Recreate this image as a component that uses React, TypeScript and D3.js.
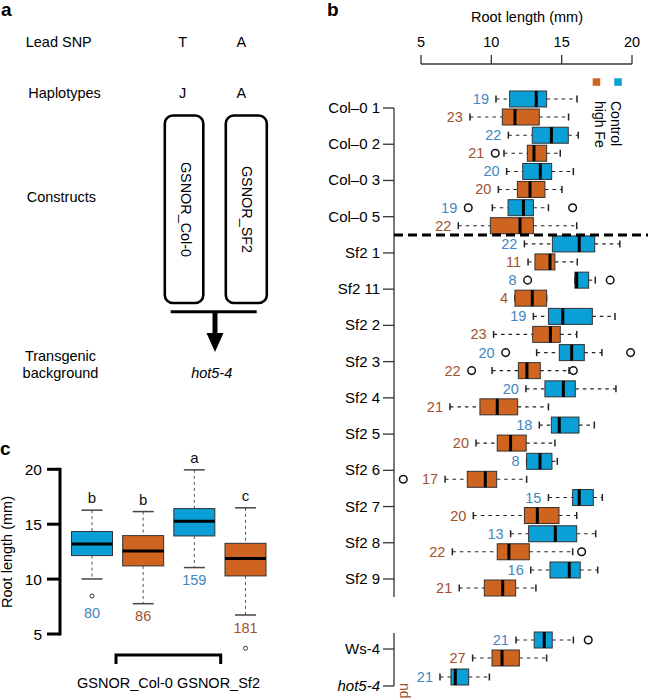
import React from "react";
import * as d3 from "d3";

const FONT = "'Liberation Sans', Arial, Helvetica, sans-serif";
const BLUE = "#0a9fd6";
const ORANGE = "#cf6420";
const BLUE_TXT = "#3f86c2";
const ORANGE_TXT = "#a0522d";

// ---------- panel b data ----------
const lines = ["Col–0 1", "Col–0 2", "Col–0 3", "Col–0 5", "Sf2 1", "Sf2 11", "Sf2 2", "Sf2 3", "Sf2 4", "Sf2 5", "Sf2 6", "Sf2 7", "Sf2 8", "Sf2 9"];
const controlStats = [
  [10.33, 11.3, 13.19, 13.93, 16.09],
  [11.21, 12.91, 14.27, 15.47, 16.18],
  [11.09, 12.23, 13.48, 14.29, 15.83],
  [10.07, 11.19, 12.28, 12.99, 14.06],
  [12.35, 14.34, 16.25, 17.35, 19.14],
  [15.94, 15.94, 16.07, 16.92, 17.39],
  [12.99, 14.06, 15.08, 17.18, 18.79],
  [13.22, 14.83, 15.71, 16.61, 17.86],
  [12.46, 13.81, 15.12, 15.97, 18.86],
  [13.41, 14.27, 14.83, 16.23, 17.32],
  [12.51, 12.51, 13.46, 14.31, 14.69],
  [14.06, 15.78, 16.25, 17.25, 17.89],
  [11.37, 12.65, 14.55, 16.07, 17.42],
  [12.8, 14.17, 15.54, 16.32, 17.56],
];
const controlOutliers = [[], [], [], [8.36, 15.78], [], [12.58, 18.45], [], [11.02, 19.9], [], [], [], [], [], []];
const controlN = [19, 22, 20, 19, 22, 8, 19, 20, 20, 18, 8, 15, 13, 16];
const highFeStats = [
  [8.48, 10.78, 11.68, 13.41, 15.49],
  [10.9, 12.56, 13.03, 13.93, 14.9],
  [10.5, 11.85, 12.75, 13.81, 15.02],
  [7.65, 9.93, 12.04, 12.99, 16.07],
  [12.61, 13.1, 14.17, 14.52, 16.11],
  [11.68, 11.68, 12.91, 13.93, 13.93],
  [10.16, 12.94, 14.2, 14.9, 16.07],
  [10.05, 11.92, 12.53, 13.48, 15.52],
  [7.06, 9.19, 10.42, 11.87, 14.06],
  [8.91, 10.42, 11.37, 12.48, 14.52],
  [6.71, 8.29, 9.57, 10.38, 12.51],
  [8.72, 12.35, 13.27, 14.81, 16.07],
  [7.23, 10.42, 11.25, 12.7, 15.78],
  [7.72, 9.5, 10.81, 11.73, 13.17],
];
const highFeOutliers = [[], [10.28], [], [], [], [], [], [8.6, 15.83], [], [], [3.74], [], [16.42], []];
const highFeN = [23, 21, 20, 22, 11, 4, 23, 22, 21, 20, 17, 20, 22, 21];

const refLines = ["Ws-4", "hot5-4"];
const refControlStats = [
  [11.75, 13.05, 13.76, 14.33, 15.83],
  [6.35, 7.13, 7.44, 8.39, 9.86],
];
const refControlOutliers = [[16.89], []];
const refControlN = [21, 21];
const refHighFeStats = [[8.67, 10.05, 10.76, 11.99, 13.93], null];
const refHighFeOutliers = [[], []];
const refHighFeN = [27, null];

const xTicksB = [5, 10, 15, 20];

// ---------- panel c data ----------
const cGroups = ["Col-0 control", "Col-0 high Fe", "Sf2 control", "Sf2 high Fe"];
const cStats = [
  [10.01, 12.14, 13.2, 14.33, 16.28],
  [7.76, 11.2, 12.57, 13.96, 16.15],
  [11.05, 13.93, 15.27, 16.42, 19.95],
  [6.73, 10.29, 11.87, 13.26, 16.49],
];
const cOutliers = [[8.46], [], [], [3.7]];
const cN = [80, 86, 159, 181];
const cLetters = ["b", "b", "a", "c"];
const cIsControl = [true, false, true, false];
const yTicksC = [5, 10, 15, 20];

// ---------- scales ----------
const xB = d3.scaleLinear().domain([5, 20]).range([421, 632]);
const yMain = d3.scalePoint().domain(lines).range([108, 579]);
const yRef = d3.scalePoint().domain(refLines).range([649, 686]);
const yC = d3.scaleLinear().domain([5, 20]).range([634, 469.3]);
const xC = d3.scalePoint().domain(cGroups).range([92, 245.5]);

function HBox({ stats, outliers, n, cy, fill, txt }) {
  const [lo, q1, med, q3, hi] = stats;
  const h = 16;
  const inRange = outliers.filter((o) => o >= 5);
  const minOut = inRange.length ? Math.min(...inRange) : Infinity;
  const left = Math.min(lo, minOut);
  const labelX = xB(left) - (minOut < lo ? 11 : 7);
  return (
    <g>
      <line x1={xB(lo)} x2={xB(q1)} y1={cy} y2={cy} stroke="#222" strokeWidth={1.1} strokeDasharray="3.5,4" />
      <line x1={xB(q3)} x2={xB(hi)} y1={cy} y2={cy} stroke="#222" strokeWidth={1.1} strokeDasharray="3.5,4" />
      <line x1={xB(lo)} x2={xB(lo)} y1={cy - 3.5} y2={cy + 3.5} stroke="#222" strokeWidth={1.5} />
      <line x1={xB(hi)} x2={xB(hi)} y1={cy - 3.5} y2={cy + 3.5} stroke="#222" strokeWidth={1.5} />
      <rect x={xB(q1)} y={cy - h / 2} width={xB(q3) - xB(q1)} height={h} fill={fill} stroke="#333" strokeWidth={1} />
      <line x1={xB(med)} x2={xB(med)} y1={cy - h / 2} y2={cy + h / 2} stroke="#000" strokeWidth={3} />
      {outliers.map((o, i) => (
        <circle key={i} cx={xB(o)} cy={cy} r={3.8} fill="none" stroke="#111" strokeWidth={1.5} />
      ))}
      <text x={labelX} y={cy + 5} textAnchor="end" fill={txt} fontSize={14.5}>
        {n}
      </text>
    </g>
  );
}

function VBox({ stats, outliers, n, cx, fill, txt, letter }) {
  const [lo, q1, med, q3, hi] = stats;
  const w = 41;
  const inRange = outliers.filter((o) => o >= 5);
  const minOut = inRange.length ? Math.min(...inRange) : Infinity;
  const bottom = Math.min(lo, minOut);
  const labelY = yC(bottom) + (minOut < lo ? 17 : 12.5) + 5;
  return (
    <g>
      <line x1={cx} x2={cx} y1={yC(hi)} y2={yC(q3)} stroke="#555" strokeWidth={1} strokeDasharray="3,3" />
      <line x1={cx} x2={cx} y1={yC(q1)} y2={yC(lo)} stroke="#555" strokeWidth={1} strokeDasharray="3,3" />
      <line x1={cx - 10.5} x2={cx + 10.5} y1={yC(hi)} y2={yC(hi)} stroke="#444" strokeWidth={1.5} />
      <line x1={cx - 10.5} x2={cx + 10.5} y1={yC(lo)} y2={yC(lo)} stroke="#444" strokeWidth={1.5} />
      <rect x={cx - w / 2} y={yC(q3)} width={w} height={yC(q1) - yC(q3)} fill={fill} stroke="#333" strokeWidth={1} />
      <line x1={cx - w / 2} x2={cx + w / 2} y1={yC(med)} y2={yC(med)} stroke="#000" strokeWidth={3} />
      {outliers.map((o, i) => (
        <circle key={i} cx={cx} cy={yC(o)} r={2} fill="none" stroke="#222" strokeWidth={0.9} />
      ))}
      <text x={cx} y={labelY} textAnchor="middle" fill={txt} fontSize={14.5}>
        {n}
      </text>
      <text x={cx} y={yC(hi) - 12 + 5} textAnchor="middle" fill="#111" fontSize={15}>
        {letter}
      </text>
    </g>
  );
}

export default function App() {
  return (
    <svg width={648} height={699} style={{ position: "absolute", left: 0, top: 0, background: "#fff" }} fontFamily={FONT}>
      {/* ---------------- panel a ---------------- */}
      <text x={1} y={16} fontSize={19} fontWeight="bold">a</text>
      <text x={25.7} y={46.5} fontSize={14.5}>Lead SNP</text>
      <text x={182.7} y={46.5} fontSize={14.5} textAnchor="middle">T</text>
      <text x={241.3} y={46.5} fontSize={14.5} textAnchor="middle">A</text>
      <text x={28.3} y={97.5} fontSize={14.5}>Haplotypes</text>
      <text x={182.7} y={97.5} fontSize={14.5} textAnchor="middle">J</text>
      <text x={241.3} y={97.5} fontSize={14.5} textAnchor="middle">A</text>
      <text x={26.7} y={201.5} fontSize={14.5}>Constructs</text>
      <rect x={164.8} y={115.5} width={38.5} height={187.5} rx={8} fill="none" stroke="#000" strokeWidth={2.6} />
      <rect x={225.8} y={115.5} width={41} height={187.5} rx={8} fill="none" stroke="#000" strokeWidth={2.6} />
      <text transform="translate(180.5,209.5) rotate(90)" fontSize={14.4} textAnchor="middle">GSNOR_Col-0</text>
      <text transform="translate(241.5,209.5) rotate(90)" fontSize={14.4} textAnchor="middle">GSNOR_SF2</text>
      <line x1={170.7} x2={256.7} y1={311.7} y2={311.7} stroke="#000" strokeWidth={3} />
      <line x1={215} x2={215} y1={311.7} y2={336} stroke="#000" strokeWidth={5} />
      <path d="M206.5,333 L223.5,333 L215,352 Z" fill="#000" />
      <text x={60.5} y={361} fontSize={14.5} textAnchor="middle">Transgenic</text>
      <text x={60.5} y={378} fontSize={14.5} textAnchor="middle">background</text>
      <text x={211.7} y={378} fontSize={14.5} textAnchor="middle" fontStyle="italic">hot5-4</text>

      {/* ---------------- panel b ---------------- */}
      <text x={327} y={16} fontSize={19} fontWeight="bold">b</text>
      <text x={527} y={21.7} fontSize={14.5} textAnchor="middle">Root length (mm)</text>
      <line x1={xB(5)} x2={xB(20)} y1={64} y2={64} stroke="#333" strokeWidth={1.3} />
      {xTicksB.map((t) => (
        <g key={t}>
          <line x1={xB(t)} x2={xB(t)} y1={64} y2={55} stroke="#333" strokeWidth={1.3} />
          <text x={xB(t)} y={47} textAnchor="middle" fontSize={14.5}>{t}</text>
        </g>
      ))}
      {/* legend */}
      <rect x={592.7} y={78.3} width={7.5} height={7.5} fill={ORANGE} />
      <rect x={614.3} y={78.3} width={7.5} height={7.5} fill={BLUE} />
      <text transform="translate(611,101) rotate(90)" fontSize={14}>Control</text>
      <text transform="translate(595,101) rotate(90)" fontSize={14}>high Fe</text>

      {/* main axis */}
      <line x1={394} x2={394} y1={108} y2={597} stroke="#333" strokeWidth={1.3} />
      {lines.map((l) => (
        <g key={l}>
          <line x1={383} x2={394} y1={yMain(l)} y2={yMain(l)} stroke="#333" strokeWidth={1.3} />
          <text x={380} y={yMain(l) + 5} textAnchor="end" fontSize={15}>{l}</text>
        </g>
      ))}
      {lines.map((l, i) => (
        <g key={"b" + l}>
          <HBox stats={controlStats[i]} outliers={controlOutliers[i]} n={controlN[i]} cy={yMain(l) - 9} fill={BLUE} txt={BLUE_TXT} />
          <HBox stats={highFeStats[i]} outliers={highFeOutliers[i]} n={highFeN[i]} cy={yMain(l) + 9} fill={ORANGE} txt={ORANGE_TXT} />
        </g>
      ))}
      <line x1={394} x2={648} y1={235} y2={235} stroke="#000" strokeWidth={3} strokeDasharray="9,5" />

      {/* reference axis */}
      <line x1={394} x2={394} y1={633} y2={686} stroke="#333" strokeWidth={1.3} />
      {refLines.map((l, i) => (
        <g key={l}>
          <line x1={383} x2={394} y1={yRef(l)} y2={yRef(l)} stroke="#333" strokeWidth={1.3} />
          <text x={380} y={yRef(l) + 5} textAnchor="end" fontSize={15} fontStyle={i === 1 ? "italic" : "normal"}>{l}</text>
          <HBox stats={refControlStats[i]} outliers={refControlOutliers[i]} n={refControlN[i]} cy={yRef(l) - 9} fill={BLUE} txt={BLUE_TXT} />
          {refHighFeStats[i] ? (
            <HBox stats={refHighFeStats[i]} outliers={refHighFeOutliers[i]} n={refHighFeN[i]} cy={yRef(l) + 9} fill={ORANGE} txt={ORANGE_TXT} />
          ) : (
            <text transform={`translate(400,${yRef(l) - 3}) rotate(90)`} fontSize={14} fill={ORANGE_TXT}>nd</text>
          )}
        </g>
      ))}

      {/* ---------------- panel c ---------------- */}
      <text x={0} y={455} fontSize={19} fontWeight="bold">c</text>
      <text transform="translate(12,552) rotate(-90)" fontSize={14.5} textAnchor="middle">Root length (mm)</text>
      <line x1={60} x2={60} y1={yC(20) - 1.5} y2={yC(5) + 1.5} stroke="#000" strokeWidth={3} />
      {yTicksC.map((t) => (
        <g key={t}>
          <line x1={47} x2={60} y1={yC(t)} y2={yC(t)} stroke="#000" strokeWidth={3} />
          <text x={42} y={yC(t) + 5.5} textAnchor="end" fontSize={15.5}>{t}</text>
        </g>
      ))}
      {cGroups.map((g, i) => (
        <VBox
          key={g}
          stats={cStats[i]}
          outliers={cOutliers[i]}
          n={cN[i]}
          cx={xC(g)}
          fill={cIsControl[i] ? BLUE : ORANGE}
          txt={cIsControl[i] ? BLUE_TXT : ORANGE_TXT}
          letter={cLetters[i]}
        />
      ))}
      <path d="M116,664 L116,655 L220.7,655 L220.7,664" fill="none" stroke="#000" strokeWidth={3} />
      <text x={168.5} y={688} fontSize={14.5} textAnchor="middle">GSNOR_Col-0 GSNOR_Sf2</text>
    </svg>
  );
}
